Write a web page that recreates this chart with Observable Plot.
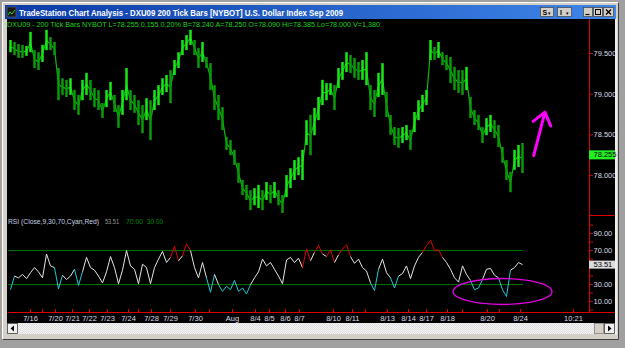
<!DOCTYPE html>
<html><head><meta charset="utf-8">
<script src="https://cdn.jsdelivr.net/npm/d3@7"></script>
<script src="https://cdn.jsdelivr.net/npm/@observablehq/plot@0.6"></script>
<style>
html,body{margin:0;padding:0;background:#a0a0a0;}
#wrap{position:relative;width:625px;height:348px;overflow:hidden;font-family:"Liberation Sans",Arial,sans-serif;}
#chrome{position:absolute;left:0;top:0;}
.panel{position:absolute;left:0;}
.panel svg{overflow:visible;}
</style></head><body>
<div id="wrap">
<svg id="chrome" width="625" height="348" style="white-space:pre" font-family="Liberation Sans, Arial, sans-serif">
<defs>
<linearGradient id="tb" x1="0" x2="1"><stop offset="0" stop-color="#0a3aa8"/><stop offset="1" stop-color="#3f86e8"/></linearGradient>
<pattern id="chk" width="2" height="2" patternUnits="userSpaceOnUse"><rect width="2" height="2" fill="#f6f6f6"/><rect width="1" height="1" fill="#dcdcdc"/><rect x="1" y="1" width="1" height="1" fill="#dcdcdc"/></pattern>
</defs>
<rect x="0" y="0" width="625" height="348" fill="#a0a0a0"/>
<rect x="2" y="2" width="617" height="338" fill="#d4d0c8"/>
<line x1="2.5" y1="2.5" x2="618.5" y2="2.5" stroke="#ffffff"/>
<line x1="2.5" y1="2.5" x2="2.5" y2="339.5" stroke="#ffffff"/>
<line x1="618.5" y1="2.5" x2="618.5" y2="339.5" stroke="#404040"/>
<line x1="2.5" y1="339.5" x2="618.5" y2="339.5" stroke="#404040"/>
<rect x="5" y="5" width="611" height="14" fill="url(#tb)"/>
<rect x="7" y="7" width="9" height="10" fill="#1a1a1a" stroke="#6a6a6a" stroke-width="0.6"/>
<polyline points="8,15 10,12 12,14 15,10" fill="none" stroke="#20d020" stroke-width="1"/>
<text x="19" y="15.6" fill="#ffffff" font-size="8.5" font-weight="bold" textLength="324" lengthAdjust="spacingAndGlyphs">TradeStation Chart Analysis - DXU09  200 Tick Bars [NYBOT] U.S. Dollar Index Sep 2009</text>
<rect x="540.5" y="7.5" width="13" height="9" fill="#d4d0c8" stroke="#404040" stroke-width="0.7"/>
<text x="542.5" y="15" font-size="7" font-weight="bold" fill="#000">S</text><text x="548" y="14.5" font-size="5" fill="#000">▾</text>
<rect x="557.5" y="7.5" width="14" height="9" fill="#d4d0c8" stroke="#404040" stroke-width="0.7"/>
<text x="560" y="15" font-size="7" font-weight="bold" fill="#000">I</text><text x="565.5" y="14.5" font-size="5" fill="#000">▾</text>
<rect x="583.5" y="7.5" width="9" height="9" fill="#d4d0c8" stroke="#404040" stroke-width="0.7"/>
<line x1="585.5" y1="14.5" x2="589.5" y2="14.5" stroke="#000" stroke-width="1.2"/>
<rect x="593.5" y="7.5" width="9" height="9" fill="#d4d0c8" stroke="#404040" stroke-width="0.7"/>
<rect x="595.5" y="9.5" width="5" height="5" fill="none" stroke="#000" stroke-width="1"/>
<rect x="603.5" y="7.5" width="10" height="9" fill="#d4d0c8" stroke="#404040" stroke-width="0.7"/>
<path d="M606,9.5 L611,14.5 M611,9.5 L606,14.5" stroke="#000" stroke-width="1.3"/>
<rect x="7" y="19" width="608" height="304" fill="#000"/>
<line x1="616" y1="19" x2="616" y2="335" stroke="#eeeeee" stroke-width="2"/>
<text x="7" y="26.8" fill="#1ed21e" font-size="7.6" textLength="373" lengthAdjust="spacingAndGlyphs">DXU09 - 200 Tick Bars  NYBOT  L=78.255  0.155  0.20%  B=78.240  A=78.250  O=78.090  Hi=78.385  Lo=78.000  V=1,380</text>
<text x="8" y="223.8" fill="#c8d0e0" font-size="6.4" textLength="91" lengthAdjust="spacingAndGlyphs">RSI (Close,9,30,70,Cyan,Red)</text>
<text x="105" y="223.8" fill="#9a9a9a" font-size="6.4" textLength="14" lengthAdjust="spacingAndGlyphs">53.51</text>
<text x="126" y="223.8" fill="#008a00" font-size="6.4" textLength="17" lengthAdjust="spacingAndGlyphs">70.00</text>
<text x="147" y="223.8" fill="#008a00" font-size="6.4" textLength="16" lengthAdjust="spacingAndGlyphs">30.00</text>
<line x1="589.5" y1="19" x2="589.5" y2="312" stroke="#e00000"/>
<line x1="589" y1="215.5" x2="615" y2="215.5" stroke="#e00000"/>
<line x1="8" y1="312.5" x2="615" y2="312.5" stroke="#e00000"/>
<rect x="7" y="323" width="608" height="11" fill="url(#chk)"/>
<rect x="7.5" y="323.5" width="10" height="10" fill="#f0f0f0" stroke="#404040" stroke-width="0.8"/>
<path d="M14,325.5 L10.5,328.5 L14,331.5 Z" fill="#000"/>
<rect x="594.5" y="323.5" width="9" height="10" fill="#d4d0c8" stroke="#808080" stroke-width="0.8"/>
<rect x="604.5" y="323.5" width="10" height="10" fill="#f0f0f0" stroke="#404040" stroke-width="0.8"/>
<path d="M608,325.5 L611.5,328.5 L608,331.5 Z" fill="#000"/>
</svg>
<div id="price" class="panel" style="top:18px"></div>
<div id="rsi" class="panel" style="top:215px"></div>
</div>
<script>
// ---- data ----
const barHigh = [79.66,79.635,79.61,79.60,79.585,79.76,79.535,79.51,79.60,79.785,
79.695,79.635,79.315,79.19,79.17,79.19,79.045,78.985,79.17,79.255,
79.17,79.07,79.045,78.885,79.045,79.145,78.985,78.86,79.045,79.315,
79.045,78.985,78.92,78.86,78.945,78.92,79.045,79.105,79.19,79.23,
79.29,79.415,79.51,79.66,79.72,79.785,79.66,79.56,79.635,79.45,
79.375,79.105,78.985,78.835,78.47,78.43,78.31,78.15,77.94,77.88,
77.815,77.84,77.88,77.815,77.915,77.88,77.915,77.815,77.755,78.0,
78.085,78.185,78.22,78.31,78.675,78.74,78.825,78.96,79.17,79.13,
79.13,79.105,79.315,79.39,79.51,79.475,79.44,79.39,79.415,79.51,
79.105,79.045,79.255,79.375,79.02,78.74,78.59,78.58,78.59,78.615,
78.555,78.775,78.92,78.985,79.045,79.66,79.575,79.635,79.51,79.475,
79.45,79.33,79.29,79.29,79.33,78.96,78.80,78.74,78.59,78.70,
78.74,78.675,78.615,78.345,78.185,78.04,78.31,78.37,78.395];
const barLow = [79.51,79.475,79.44,79.44,79.465,79.51,79.315,79.29,79.39,79.535,
79.535,79.475,78.92,78.985,78.96,78.985,78.80,78.74,78.92,78.985,
78.92,78.835,78.80,78.70,78.835,78.92,78.775,78.58,78.74,78.92,
78.80,78.765,78.615,78.515,78.675,78.43,78.80,78.86,78.985,79.02,
78.885,79.23,79.315,79.475,79.535,79.60,79.475,79.315,79.39,79.315,
79.045,78.80,78.675,78.555,78.31,78.245,78.125,77.905,77.755,77.695,
77.57,77.63,77.595,77.57,77.695,77.655,77.72,77.63,77.535,77.73,
77.84,77.94,78.0,77.94,78.37,78.245,78.49,78.675,78.86,78.92,
78.985,78.80,79.07,79.17,79.265,79.255,79.195,79.17,79.17,79.105,
78.80,78.715,78.96,78.985,78.715,78.495,78.37,78.335,78.395,78.43,
78.31,78.53,78.675,78.775,78.86,79.415,79.415,79.44,79.35,79.29,
79.13,79.045,79.01,78.985,79.045,78.70,78.615,78.555,78.395,78.49,
78.53,78.455,78.345,78.15,77.94,77.79,78.065,78.10,78.025];
const lastClose = 78.255;
const rsiValues = [24,40,38,42,37,44,50,45,38,66,
52,50,25,41,36,40,48,29,45,62,
50,47,40,32,45,63,50,31,47,70,
52,48,31,54,50,31,50,60,69,56,
62,75,58,64,78,70,50,38,56,38,
21,42,30,22,28,24,35,22,26,19,
30,38,45,60,52,56,48,40,31,59,
62,56,61,50,72,58,68,76,66,63,
71,56,65,72,77,63,55,60,50,46,
32,23,48,60,44,38,26,40,43,52,
37,52,62,68,76,82,70,71,62,56,
48,38,33,52,42,35,24,26,36,48,
49,41,38,24,16,47,50,56,53.51];
const lastRsi = 53.51;
const rsiLevels = [70, 30];
const rsiTicks = [0,10,20,30,40,50,60,70,80,90,100];
const rsiLabelTicks = [90,70,30,10];
const priceTicks = [78, 78.5, 79, 79.5];
const timeLabels = ["7/16","7/20","7/21","7/22","7/23","7/24","7/28","7/29","7/30","Aug","8/4","8/5","8/6","8/7","8/10","8/11","8/13","8/14","8/17","8/18","8/20","8/24","10:21"];
const timeTickBars = [5,11.25,15.5,19.75,24.25,29.5,35.25,40,46.25,55.5,61.25,64.75,68.75,72.25,80.75,85.5,94.25,99.5,104,109.25,119.25,127.5,140.75];
const minorTickBars = [8,32,49.75,88.75,113,122.25];
const arrowAnno = [{x1:130.8, y1:78.247, x2:133.6, y2:78.78}];
const ellipseAnno = [{x:123, y:21.9}];

// ---- build ----
const xDomain = [-0.5, 144.75];
const bars = barHigh.map((h,i)=>({i, high:h, low:barLow[i], mid:(h+barLow[i])/2}));
bars.forEach((b,i)=>{ b.c = (i===0 || b.mid >= bars[i-1].mid) ? "#18e818" : "#0a9a0a"; });
const rsi = rsiValues.map((v,i)=>({i, v}));
const segs = rsi.slice(1).map((d,k)=>{
  const a = rsi[k], hi = Math.max(a.v,d.v), lo = Math.min(a.v,d.v);
  return {x1:a.i, y1:a.v, x2:d.i, y2:d.v, c: hi>70 ? "#e00000" : lo<30 ? "#1cc8d8" : "#e4e4e4"};
});
const labelOf = new Map(timeTickBars.map((b,i)=>[b,timeLabels[i]]));
const font = {background:"transparent", fontFamily:"Liberation Sans, Arial, sans-serif", fontSize:"7.5px", overflow:"visible"};
const axisText = "#d8dce8";

const pricePlot = Plot.plot({
  width:625, height:197, marginLeft:8, marginRight:36, marginTop:0, marginBottom:0,
  style:font,
  x:{domain:xDomain, axis:null},
  y:{domain:[77.51,79.93]},
  color:{type:"identity"},
  marks:[
    Plot.line(bars,{x:"i", y:"mid", stroke:"#10b810", strokeWidth:1.2}),
    Plot.ruleX(bars,{x:"i", y1:"low", y2:"high", stroke:"c", strokeWidth:2.5}),
    Plot.axisY({anchor:"right", ticks:priceTicks, tickSize:3, tickPadding:1, tickFormat:d3.format(".3f"), stroke:"#e00000", fill:axisText}),
    Plot.ruleY([lastClose],{x1:()=>xDomain[1], x2:()=>xDomain[1]+6.5, stroke:"#22f022", strokeWidth:9}),
    Plot.text([lastClose],{y:d=>d, frameAnchor:"right", dx:4, textAnchor:"start", text:d=>d.toFixed(3), fill:"#000"}),
    Plot.arrow(arrowAnno,{x1:"x1", y1:"y1", x2:"x2", y2:"y2", stroke:"#ff00ff", strokeWidth:3, headLength:12, headAngle:75})
  ]
});
document.getElementById("price").appendChild(pricePlot);

const ellipseSym = {draw(ctx){
  const rx=49.5, ry=13, k=0.5523;
  ctx.moveTo(rx,0);
  ctx.bezierCurveTo(rx,ry*k,rx*k,ry,0,ry);
  ctx.bezierCurveTo(-rx*k,ry,-rx,ry*k,-rx,0);
  ctx.bezierCurveTo(-rx,-ry*k,-rx*k,-ry,0,-ry);
  ctx.bezierCurveTo(rx*k,-ry,rx,-ry*k,rx,0);
  ctx.closePath();
}};

const rsiPlot = Plot.plot({
  width:625, height:108, marginLeft:8, marginRight:36, marginTop:0, marginBottom:11,
  style:font,
  x:{domain:xDomain},
  y:{domain:[-2.82,111.29]},
  color:{type:"identity"},
  marks:[
    Plot.ruleY(rsiLevels,{x1:()=>xDomain[0], x2:()=>rsi[rsi.length-1].i+0.25, stroke:"#007a00"}),
    Plot.link(segs,{x1:"x1", y1:"y1", x2:"x2", y2:"y2", stroke:"c", strokeWidth:1}),
    Plot.axisY({anchor:"right", ticks:rsiTicks, tickSize:3, tickPadding:1, tickFormat:d=>rsiLabelTicks.includes(d)?d.toFixed(2):"", stroke:"#e00000", fill:axisText}),
    Plot.ruleY([lastRsi],{x1:()=>xDomain[1], x2:()=>xDomain[1]+6.5, stroke:"#dcdcdc", strokeWidth:8}),
    Plot.text([lastRsi],{y:d=>d, frameAnchor:"right", dx:4, textAnchor:"start", text:d=>d.toFixed(2), fill:"#000"}),
    Plot.axisX({ticks:timeTickBars, tickSize:0, tickPadding:3, tickFormat:d=>labelOf.get(d), fill:axisText}),
    Plot.tickX(timeTickBars.concat(minorTickBars),{x:d=>d, stroke:"#e00000", insetTop:94}),
    Plot.dot(ellipseAnno,{x:"x", y:"y", symbol:ellipseSym, stroke:"#e000e0", fill:"none", strokeWidth:1.3})
  ]
});
document.getElementById("rsi").appendChild(rsiPlot);
</script>
</body></html>
